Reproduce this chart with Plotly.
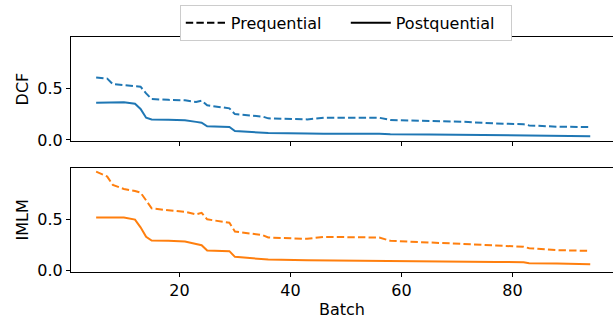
import plotly.graph_objects as go

batch = [5, 7, 8, 10, 12, 13, 14, 15, 18, 21, 23, 24, 25, 29, 30, 35, 36, 43, 46, 56, 58, 65, 71, 77, 82, 83, 88, 94]

dcf_pre = [0.605, 0.593, 0.54, 0.53, 0.52, 0.515, 0.45, 0.396, 0.388, 0.383, 0.367, 0.38, 0.335, 0.306,
           0.25, 0.226, 0.209, 0.199, 0.215, 0.215, 0.193, 0.186, 0.176, 0.16, 0.152, 0.141, 0.128, 0.125]
dcf_post = [0.36, 0.36, 0.362, 0.364, 0.35, 0.30, 0.215, 0.199, 0.195, 0.19, 0.175, 0.167, 0.132, 0.125,
            0.086, 0.074, 0.067, 0.063, 0.06, 0.06, 0.056, 0.054, 0.05, 0.046, 0.041, 0.04, 0.037, 0.035]
imlm_pre = [0.957, 0.91, 0.83, 0.79, 0.77, 0.755, 0.68, 0.603, 0.585, 0.57, 0.545, 0.56, 0.497, 0.464,
            0.38, 0.345, 0.322, 0.309, 0.328, 0.322, 0.29, 0.277, 0.26, 0.245, 0.232, 0.219, 0.2, 0.193]
imlm_post = [0.516, 0.514, 0.514, 0.516, 0.495, 0.42, 0.328, 0.293, 0.29, 0.284, 0.26, 0.248, 0.196, 0.19,
             0.135, 0.119, 0.109, 0.103, 0.102, 0.1, 0.095, 0.092, 0.09, 0.086, 0.083, 0.074, 0.07, 0.064]

panel_titles = ["DCF", "IMLM"]
legend_names = ["Prequential", "Postquential"]
x_ticks = [20, 40, 60, 80]
y_ticks = [0.0, 0.5]

BLUE = "#1f77b4"
ORANGE = "#ff7f0e"
DASH = "7.4px,3.2px"
FONT = "DejaVu Sans"
FS = 16

fig = go.Figure()

fig.add_trace(go.Scatter(x=batch, y=dcf_pre, mode="lines", line=dict(color=BLUE, width=2, dash=DASH),
                         xaxis="x", yaxis="y", showlegend=False))
fig.add_trace(go.Scatter(x=batch, y=dcf_post, mode="lines", line=dict(color=BLUE, width=2),
                         xaxis="x", yaxis="y", showlegend=False))
fig.add_trace(go.Scatter(x=batch, y=imlm_pre, mode="lines", line=dict(color=ORANGE, width=2, dash=DASH),
                         xaxis="x2", yaxis="y2", showlegend=False))
fig.add_trace(go.Scatter(x=batch, y=imlm_post, mode="lines", line=dict(color=ORANGE, width=2),
                         xaxis="x2", yaxis="y2", showlegend=False))

fig.add_trace(go.Scatter(x=[None], y=[None], mode="lines", name=legend_names[0],
                         line=dict(color="black", width=2, dash=DASH)))
fig.add_trace(go.Scatter(x=[None], y=[None], mode="lines", name=legend_names[1],
                         line=dict(color="black", width=2)))

xr = [0.47, 98.1]
yr = [-0.011, 0.996]
axis_common = dict(showline=True, mirror=True, linecolor="black", linewidth=1, showgrid=False,
                   zeroline=False, ticks="outside", ticklen=4, tickwidth=1, tickcolor="black",
                   automargin=False,
                   tickfont=dict(family=FONT, size=FS, color="black"))

fig.update_layout(
    width=613, height=320,
    margin=dict(l=71, r=0, t=37, b=48, autoexpand=False),
    paper_bgcolor="white", plot_bgcolor="white",
    font=dict(family=FONT, size=FS, color="black"),
    xaxis=dict(domain=[0, 1], range=xr, tickvals=x_ticks, showticklabels=False, anchor="y", **axis_common),
    yaxis=dict(domain=[0.557, 1], range=yr, tickvals=y_ticks, tickformat=".1f", anchor="x",
               title=dict(text=panel_titles[0], font=dict(family=FONT, size=FS), standoff=4), **axis_common),
    xaxis2=dict(domain=[0, 1], range=xr, tickvals=x_ticks, anchor="y2",
                title=dict(text="Batch", font=dict(family=FONT, size=FS), standoff=4), **axis_common),
    yaxis2=dict(domain=[0, 0.444], range=yr, tickvals=y_ticks, tickformat=".1f", anchor="x2",
                title=dict(text=panel_titles[1], font=dict(family=FONT, size=FS), standoff=4), **axis_common),
    legend=dict(orientation="h", x=0.507, xanchor="center", y=0.985, yref="container", yanchor="top",
                bgcolor="white", bordercolor="#cccccc", borderwidth=1,
                font=dict(family=FONT, size=FS), entrywidth=110, itemwidth=40),
)

fig.write_html("out.html", config={"displayModeBar": False},
               post_script="document.body.style.margin='0';document.body.style.padding='0';")
